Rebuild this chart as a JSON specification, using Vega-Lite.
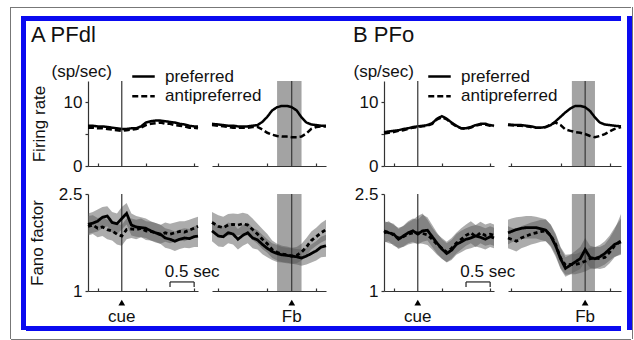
{
  "$schema": "https://vega.github.io/schema/vega-lite/v6.json",
  "padding": {"left": 10, "top": 7, "right": 0, "bottom": 0},
  "background": "white",
  "config": {
    "view": {"stroke": null},
    "font": "Liberation Sans",
    "axis": {"grid": false, "domainColor": "#333", "tickColor": "#333", "labelColor": "#111", "labelFont": "Liberation Sans", "labelFontSize": 17, "titleFont": "Liberation Sans", "titleFontSize": 17, "titleFontWeight": "normal", "titleColor": "#111", "labelFlush": false, "labelOverlap": false, "domainWidth": 1.2, "tickWidth": 1.2},
    "legend": {"labelFont": "Liberation Sans"},
    "title": {"font": "Liberation Sans", "fontWeight": "normal", "color": "#111"}
  },
  "datasets": {
    "rateA_cue": [
      {"t": -0.7, "preferred": 6.3, "antipreferred": 6.0}, {"t": -0.6, "preferred": 6.3, "antipreferred": 6.0},
      {"t": -0.5, "preferred": 6.2, "antipreferred": 5.9}, {"t": -0.4, "preferred": 6.2, "antipreferred": 5.9},
      {"t": -0.3, "preferred": 6.1, "antipreferred": 5.8}, {"t": -0.2, "preferred": 6.0, "antipreferred": 5.7},
      {"t": -0.1, "preferred": 5.9, "antipreferred": 5.6}, {"t": 0.0, "preferred": 5.8, "antipreferred": 5.5},
      {"t": 0.1, "preferred": 5.8, "antipreferred": 5.6}, {"t": 0.2, "preferred": 5.9, "antipreferred": 5.7},
      {"t": 0.3, "preferred": 5.9, "antipreferred": 5.8}, {"t": 0.4, "preferred": 6.2, "antipreferred": 6.0},
      {"t": 0.5, "preferred": 6.8, "antipreferred": 6.4}, {"t": 0.6, "preferred": 7.0, "antipreferred": 6.6},
      {"t": 0.7, "preferred": 7.1, "antipreferred": 6.7}, {"t": 0.8, "preferred": 7.1, "antipreferred": 6.8},
      {"t": 0.9, "preferred": 7.0, "antipreferred": 6.6}, {"t": 1.0, "preferred": 6.9, "antipreferred": 6.6},
      {"t": 1.1, "preferred": 6.8, "antipreferred": 6.4}, {"t": 1.2, "preferred": 6.6, "antipreferred": 6.3},
      {"t": 1.3, "preferred": 6.5, "antipreferred": 6.2}, {"t": 1.4, "preferred": 6.3, "antipreferred": 6.0},
      {"t": 1.5, "preferred": 6.2, "antipreferred": 6.0}, {"t": 1.58, "preferred": 6.2, "antipreferred": 5.9}
    ],
    "rateA_fb": [
      {"t": -1.63, "preferred": 6.6, "antipreferred": 6.4}, {"t": -1.5, "preferred": 6.5, "antipreferred": 6.3},
      {"t": -1.4, "preferred": 6.4, "antipreferred": 6.2}, {"t": -1.3, "preferred": 6.3, "antipreferred": 6.1},
      {"t": -1.2, "preferred": 6.3, "antipreferred": 6.0}, {"t": -1.1, "preferred": 6.2, "antipreferred": 6.0},
      {"t": -1.0, "preferred": 6.2, "antipreferred": 6.0}, {"t": -0.9, "preferred": 6.2, "antipreferred": 6.0},
      {"t": -0.8, "preferred": 6.3, "antipreferred": 6.1}, {"t": -0.7, "preferred": 6.4, "antipreferred": 6.1},
      {"t": -0.6, "preferred": 6.9, "antipreferred": 5.7}, {"t": -0.5, "preferred": 7.7, "antipreferred": 5.2},
      {"t": -0.4, "preferred": 8.7, "antipreferred": 4.9}, {"t": -0.3, "preferred": 9.2, "antipreferred": 4.7},
      {"t": -0.2, "preferred": 9.4, "antipreferred": 4.6}, {"t": -0.1, "preferred": 9.4, "antipreferred": 4.6},
      {"t": 0.0, "preferred": 9.2, "antipreferred": 4.5}, {"t": 0.1, "preferred": 8.7, "antipreferred": 4.5},
      {"t": 0.2, "preferred": 7.6, "antipreferred": 4.6}, {"t": 0.3, "preferred": 6.8, "antipreferred": 5.1},
      {"t": 0.4, "preferred": 6.5, "antipreferred": 5.8}, {"t": 0.5, "preferred": 6.4, "antipreferred": 6.1},
      {"t": 0.6, "preferred": 6.3, "antipreferred": 6.2}, {"t": 0.7, "preferred": 6.3, "antipreferred": 6.2}
    ],
    "rateB_cue": [
      {"t": -0.7, "preferred": 5.3, "antipreferred": 5.1}, {"t": -0.6, "preferred": 5.4, "antipreferred": 5.2},
      {"t": -0.5, "preferred": 5.5, "antipreferred": 5.3}, {"t": -0.4, "preferred": 5.6, "antipreferred": 5.5},
      {"t": -0.3, "preferred": 5.8, "antipreferred": 5.6}, {"t": -0.2, "preferred": 5.9, "antipreferred": 5.8},
      {"t": -0.1, "preferred": 6.1, "antipreferred": 6.0}, {"t": 0.0, "preferred": 6.2, "antipreferred": 6.1},
      {"t": 0.1, "preferred": 6.3, "antipreferred": 6.2}, {"t": 0.2, "preferred": 6.4, "antipreferred": 6.3},
      {"t": 0.3, "preferred": 6.7, "antipreferred": 6.6}, {"t": 0.4, "preferred": 7.4, "antipreferred": 7.3},
      {"t": 0.5, "preferred": 7.8, "antipreferred": 7.6}, {"t": 0.6, "preferred": 7.4, "antipreferred": 7.3},
      {"t": 0.7, "preferred": 6.8, "antipreferred": 6.7}, {"t": 0.8, "preferred": 6.3, "antipreferred": 6.2},
      {"t": 0.9, "preferred": 5.9, "antipreferred": 5.9}, {"t": 1.0, "preferred": 5.9, "antipreferred": 5.8},
      {"t": 1.1, "preferred": 6.1, "antipreferred": 6.0}, {"t": 1.2, "preferred": 6.4, "antipreferred": 6.3},
      {"t": 1.3, "preferred": 6.6, "antipreferred": 6.5}, {"t": 1.4, "preferred": 6.6, "antipreferred": 6.5},
      {"t": 1.5, "preferred": 6.4, "antipreferred": 6.3}, {"t": 1.58, "preferred": 6.3, "antipreferred": 6.2}
    ],
    "rateB_fb": [
      {"t": -1.57, "preferred": 6.5, "antipreferred": 6.4}, {"t": -1.4, "preferred": 6.4, "antipreferred": 6.3},
      {"t": -1.3, "preferred": 6.4, "antipreferred": 6.3}, {"t": -1.2, "preferred": 6.3, "antipreferred": 6.2},
      {"t": -1.1, "preferred": 6.2, "antipreferred": 6.1}, {"t": -1.0, "preferred": 6.0, "antipreferred": 6.0},
      {"t": -0.9, "preferred": 6.0, "antipreferred": 6.0}, {"t": -0.8, "preferred": 6.1, "antipreferred": 6.1},
      {"t": -0.7, "preferred": 6.4, "antipreferred": 6.5}, {"t": -0.6, "preferred": 7.0, "antipreferred": 6.8},
      {"t": -0.5, "preferred": 7.7, "antipreferred": 6.4}, {"t": -0.4, "preferred": 8.4, "antipreferred": 5.7},
      {"t": -0.3, "preferred": 9.0, "antipreferred": 5.5}, {"t": -0.2, "preferred": 9.4, "antipreferred": 5.3},
      {"t": -0.1, "preferred": 9.4, "antipreferred": 5.2}, {"t": 0.0, "preferred": 9.2, "antipreferred": 5.0},
      {"t": 0.1, "preferred": 8.6, "antipreferred": 4.7}, {"t": 0.2, "preferred": 7.6, "antipreferred": 4.5},
      {"t": 0.3, "preferred": 6.8, "antipreferred": 4.7}, {"t": 0.4, "preferred": 6.5, "antipreferred": 5.0},
      {"t": 0.5, "preferred": 6.4, "antipreferred": 5.4}, {"t": 0.6, "preferred": 6.3, "antipreferred": 5.8},
      {"t": 0.73, "preferred": 6.2, "antipreferred": 6.1}
    ],
    "fanoA_cue": [
      {"t": -0.7, "preferred": 2.03, "antipreferred": 2.0, "pLo": 1.88, "pHi": 2.2, "aLo": 1.86, "aHi": 2.16},
      {"t": -0.6, "preferred": 2.05, "antipreferred": 2.02, "pLo": 1.9, "pHi": 2.22, "aLo": 1.88, "aHi": 2.17},
      {"t": -0.5, "preferred": 2.08, "antipreferred": 1.97, "pLo": 1.92, "pHi": 2.26, "aLo": 1.83, "aHi": 2.13},
      {"t": -0.4, "preferred": 2.14, "antipreferred": 1.99, "pLo": 1.97, "pHi": 2.3, "aLo": 1.85, "aHi": 2.15},
      {"t": -0.3, "preferred": 2.16, "antipreferred": 1.95, "pLo": 2.0, "pHi": 2.31, "aLo": 1.8, "aHi": 2.1},
      {"t": -0.2, "preferred": 2.06, "antipreferred": 1.93, "pLo": 1.9, "pHi": 2.22, "aLo": 1.78, "aHi": 2.08},
      {"t": -0.1, "preferred": 2.04, "antipreferred": 1.88, "pLo": 1.88, "pHi": 2.2, "aLo": 1.72, "aHi": 2.04},
      {"t": 0.0, "preferred": 2.12, "antipreferred": 1.85, "pLo": 1.95, "pHi": 2.3, "aLo": 1.7, "aHi": 2.02},
      {"t": 0.1, "preferred": 2.2, "antipreferred": 1.95, "pLo": 2.03, "pHi": 2.36, "aLo": 1.8, "aHi": 2.12},
      {"t": 0.2, "preferred": 2.02, "antipreferred": 1.96, "pLo": 1.86, "pHi": 2.2, "aLo": 1.82, "aHi": 2.12},
      {"t": 0.3, "preferred": 1.99, "antipreferred": 1.95, "pLo": 1.84, "pHi": 2.16, "aLo": 1.8, "aHi": 2.1},
      {"t": 0.4, "preferred": 1.98, "antipreferred": 1.97, "pLo": 1.83, "pHi": 2.14, "aLo": 1.83, "aHi": 2.12},
      {"t": 0.5, "preferred": 1.97, "antipreferred": 1.93, "pLo": 1.82, "pHi": 2.12, "aLo": 1.79, "aHi": 2.08},
      {"t": 0.6, "preferred": 1.93, "antipreferred": 1.92, "pLo": 1.78, "pHi": 2.08, "aLo": 1.78, "aHi": 2.07},
      {"t": 0.7, "preferred": 1.9, "antipreferred": 1.9, "pLo": 1.75, "pHi": 2.05, "aLo": 1.76, "aHi": 2.05},
      {"t": 0.8, "preferred": 1.88, "antipreferred": 1.87, "pLo": 1.73, "pHi": 2.03, "aLo": 1.73, "aHi": 2.02},
      {"t": 0.9, "preferred": 1.82, "antipreferred": 1.9, "pLo": 1.67, "pHi": 1.97, "aLo": 1.76, "aHi": 2.06},
      {"t": 1.0, "preferred": 1.8, "antipreferred": 1.88, "pLo": 1.65, "pHi": 1.95, "aLo": 1.74, "aHi": 2.04},
      {"t": 1.1, "preferred": 1.77, "antipreferred": 1.9, "pLo": 1.62, "pHi": 1.92, "aLo": 1.76, "aHi": 2.06},
      {"t": 1.2, "preferred": 1.8, "antipreferred": 1.92, "pLo": 1.65, "pHi": 1.95, "aLo": 1.78, "aHi": 2.08},
      {"t": 1.3, "preferred": 1.82, "antipreferred": 1.91, "pLo": 1.67, "pHi": 1.97, "aLo": 1.77, "aHi": 2.08},
      {"t": 1.4, "preferred": 1.81, "antipreferred": 1.94, "pLo": 1.66, "pHi": 1.96, "aLo": 1.8, "aHi": 2.1},
      {"t": 1.5, "preferred": 1.84, "antipreferred": 1.97, "pLo": 1.68, "pHi": 2.0, "aLo": 1.83, "aHi": 2.13},
      {"t": 1.58, "preferred": 1.85, "antipreferred": 2.0, "pLo": 1.68, "pHi": 2.02, "aLo": 1.85, "aHi": 2.15}
    ],
    "fanoA_fb": [
      {"t": -1.63, "preferred": 1.93, "antipreferred": 2.06, "pLo": 1.77, "pHi": 2.09, "aLo": 1.9, "aHi": 2.22},
      {"t": -1.5, "preferred": 1.85, "antipreferred": 2.0, "pLo": 1.69, "pHi": 2.01, "aLo": 1.84, "aHi": 2.17},
      {"t": -1.4, "preferred": 1.84, "antipreferred": 1.98, "pLo": 1.68, "pHi": 2.0, "aLo": 1.82, "aHi": 2.15},
      {"t": -1.3, "preferred": 1.9, "antipreferred": 2.02, "pLo": 1.74, "pHi": 2.06, "aLo": 1.86, "aHi": 2.19},
      {"t": -1.2, "preferred": 1.88, "antipreferred": 2.03, "pLo": 1.72, "pHi": 2.04, "aLo": 1.87, "aHi": 2.2},
      {"t": -1.1, "preferred": 1.8, "antipreferred": 2.02, "pLo": 1.64, "pHi": 1.96, "aLo": 1.86, "aHi": 2.19},
      {"t": -1.0, "preferred": 1.86, "antipreferred": 2.04, "pLo": 1.7, "pHi": 2.02, "aLo": 1.88, "aHi": 2.21},
      {"t": -0.9, "preferred": 1.9, "antipreferred": 2.02, "pLo": 1.74, "pHi": 2.06, "aLo": 1.86, "aHi": 2.19},
      {"t": -0.8, "preferred": 1.82, "antipreferred": 1.95, "pLo": 1.66, "pHi": 1.98, "aLo": 1.79, "aHi": 2.12},
      {"t": -0.7, "preferred": 1.79, "antipreferred": 1.88, "pLo": 1.64, "pHi": 1.94, "aLo": 1.73, "aHi": 2.04},
      {"t": -0.6, "preferred": 1.72, "antipreferred": 1.8, "pLo": 1.57, "pHi": 1.87, "aLo": 1.65, "aHi": 1.96},
      {"t": -0.5, "preferred": 1.66, "antipreferred": 1.73, "pLo": 1.52, "pHi": 1.8, "aLo": 1.59, "aHi": 1.88},
      {"t": -0.4, "preferred": 1.61, "antipreferred": 1.64, "pLo": 1.48, "pHi": 1.74, "aLo": 1.51, "aHi": 1.78},
      {"t": -0.3, "preferred": 1.58, "antipreferred": 1.6, "pLo": 1.45, "pHi": 1.71, "aLo": 1.47, "aHi": 1.73},
      {"t": -0.2, "preferred": 1.56, "antipreferred": 1.57, "pLo": 1.44, "pHi": 1.68, "aLo": 1.45, "aHi": 1.7},
      {"t": -0.1, "preferred": 1.55, "antipreferred": 1.56, "pLo": 1.43, "pHi": 1.67, "aLo": 1.44, "aHi": 1.69},
      {"t": 0.0, "preferred": 1.54, "antipreferred": 1.54, "pLo": 1.42, "pHi": 1.66, "aLo": 1.42, "aHi": 1.67},
      {"t": 0.1, "preferred": 1.53, "antipreferred": 1.55, "pLo": 1.41, "pHi": 1.65, "aLo": 1.43, "aHi": 1.68},
      {"t": 0.2, "preferred": 1.51, "antipreferred": 1.6, "pLo": 1.39, "pHi": 1.64, "aLo": 1.47, "aHi": 1.73},
      {"t": 0.3, "preferred": 1.54, "antipreferred": 1.68, "pLo": 1.41, "pHi": 1.67, "aLo": 1.55, "aHi": 1.82},
      {"t": 0.4, "preferred": 1.58, "antipreferred": 1.78, "pLo": 1.44, "pHi": 1.72, "aLo": 1.64, "aHi": 1.92},
      {"t": 0.5, "preferred": 1.62, "antipreferred": 1.84, "pLo": 1.47, "pHi": 1.77, "aLo": 1.7, "aHi": 1.98},
      {"t": 0.6, "preferred": 1.68, "antipreferred": 1.9, "pLo": 1.52, "pHi": 1.84, "aLo": 1.75, "aHi": 2.05},
      {"t": 0.7, "preferred": 1.7, "antipreferred": 1.95, "pLo": 1.53, "pHi": 1.87, "aLo": 1.79, "aHi": 2.1}
    ],
    "fanoB_cue": [
      {"t": -0.7, "preferred": 1.93, "antipreferred": 1.9, "pLo": 1.77, "pHi": 2.08, "aLo": 1.75, "aHi": 2.05},
      {"t": -0.6, "preferred": 1.9, "antipreferred": 1.92, "pLo": 1.74, "pHi": 2.06, "aLo": 1.77, "aHi": 2.08},
      {"t": -0.5, "preferred": 1.88, "antipreferred": 1.86, "pLo": 1.72, "pHi": 2.04, "aLo": 1.7, "aHi": 2.02},
      {"t": -0.4, "preferred": 1.8, "antipreferred": 1.82, "pLo": 1.65, "pHi": 1.96, "aLo": 1.67, "aHi": 1.98},
      {"t": -0.3, "preferred": 1.85, "antipreferred": 1.84, "pLo": 1.69, "pHi": 2.01, "aLo": 1.68, "aHi": 2.0},
      {"t": -0.2, "preferred": 1.9, "antipreferred": 1.88, "pLo": 1.74, "pHi": 2.08, "aLo": 1.72, "aHi": 2.06},
      {"t": -0.1, "preferred": 1.93, "antipreferred": 1.9, "pLo": 1.76, "pHi": 2.12, "aLo": 1.74, "aHi": 2.1},
      {"t": 0.0, "preferred": 1.88, "antipreferred": 1.9, "pLo": 1.72, "pHi": 2.1, "aLo": 1.74, "aHi": 2.16},
      {"t": 0.1, "preferred": 1.93, "antipreferred": 1.89, "pLo": 1.76, "pHi": 2.18, "aLo": 1.73, "aHi": 2.2},
      {"t": 0.2, "preferred": 1.94, "antipreferred": 1.87, "pLo": 1.78, "pHi": 2.14, "aLo": 1.71, "aHi": 2.1},
      {"t": 0.3, "preferred": 1.84, "antipreferred": 1.8, "pLo": 1.68, "pHi": 2.02, "aLo": 1.64, "aHi": 1.98},
      {"t": 0.4, "preferred": 1.74, "antipreferred": 1.72, "pLo": 1.58, "pHi": 1.9, "aLo": 1.56, "aHi": 1.88},
      {"t": 0.5, "preferred": 1.65, "antipreferred": 1.66, "pLo": 1.5, "pHi": 1.8, "aLo": 1.5, "aHi": 1.82},
      {"t": 0.6, "preferred": 1.58, "antipreferred": 1.6, "pLo": 1.44, "pHi": 1.74, "aLo": 1.45, "aHi": 1.76},
      {"t": 0.7, "preferred": 1.63, "antipreferred": 1.66, "pLo": 1.48, "pHi": 1.79, "aLo": 1.5, "aHi": 1.82},
      {"t": 0.8, "preferred": 1.72, "antipreferred": 1.74, "pLo": 1.56, "pHi": 1.88, "aLo": 1.58, "aHi": 1.9},
      {"t": 0.9, "preferred": 1.76, "antipreferred": 1.8, "pLo": 1.6, "pHi": 1.93, "aLo": 1.64, "aHi": 1.97},
      {"t": 1.0, "preferred": 1.8, "antipreferred": 1.86, "pLo": 1.64, "pHi": 1.97, "aLo": 1.7, "aHi": 2.03},
      {"t": 1.1, "preferred": 1.82, "antipreferred": 1.9, "pLo": 1.66, "pHi": 2.0, "aLo": 1.74, "aHi": 2.08},
      {"t": 1.2, "preferred": 1.85, "antipreferred": 1.84, "pLo": 1.69, "pHi": 2.02, "aLo": 1.68, "aHi": 2.02},
      {"t": 1.3, "preferred": 1.83, "antipreferred": 1.9, "pLo": 1.67, "pHi": 2.0, "aLo": 1.74, "aHi": 2.07},
      {"t": 1.4, "preferred": 1.8, "antipreferred": 1.86, "pLo": 1.64, "pHi": 1.97, "aLo": 1.7, "aHi": 2.03},
      {"t": 1.5, "preferred": 1.84, "antipreferred": 1.88, "pLo": 1.68, "pHi": 2.0, "aLo": 1.72, "aHi": 2.05},
      {"t": 1.58, "preferred": 1.82, "antipreferred": 1.86, "pLo": 1.66, "pHi": 1.98, "aLo": 1.7, "aHi": 2.03}
    ],
    "fanoB_fb": [
      {"t": -1.57, "preferred": 1.9, "antipreferred": 1.82, "pLo": 1.72, "pHi": 2.1, "aLo": 1.66, "aHi": 2.0},
      {"t": -1.5, "preferred": 1.92, "antipreferred": 1.8, "pLo": 1.75, "pHi": 2.12, "aLo": 1.64, "aHi": 1.98},
      {"t": -1.4, "preferred": 1.95, "antipreferred": 1.77, "pLo": 1.78, "pHi": 2.14, "aLo": 1.61, "aHi": 1.95},
      {"t": -1.3, "preferred": 1.97, "antipreferred": 1.82, "pLo": 1.8, "pHi": 2.15, "aLo": 1.66, "aHi": 2.0},
      {"t": -1.2, "preferred": 1.98, "antipreferred": 1.85, "pLo": 1.81, "pHi": 2.16, "aLo": 1.69, "aHi": 2.03},
      {"t": -1.1, "preferred": 1.98, "antipreferred": 1.88, "pLo": 1.81, "pHi": 2.16, "aLo": 1.72, "aHi": 2.06},
      {"t": -1.0, "preferred": 1.98, "antipreferred": 1.9, "pLo": 1.81, "pHi": 2.15, "aLo": 1.74, "aHi": 2.08},
      {"t": -0.9, "preferred": 1.96, "antipreferred": 1.92, "pLo": 1.79, "pHi": 2.13, "aLo": 1.76, "aHi": 2.1},
      {"t": -0.8, "preferred": 1.94, "antipreferred": 1.93, "pLo": 1.77, "pHi": 2.11, "aLo": 1.77, "aHi": 2.1},
      {"t": -0.7, "preferred": 1.85, "antipreferred": 1.86, "pLo": 1.68, "pHi": 2.02, "aLo": 1.7, "aHi": 2.03},
      {"t": -0.6, "preferred": 1.7, "antipreferred": 1.72, "pLo": 1.53, "pHi": 1.87, "aLo": 1.56, "aHi": 1.89},
      {"t": -0.5, "preferred": 1.5, "antipreferred": 1.51, "pLo": 1.34, "pHi": 1.67, "aLo": 1.35, "aHi": 1.68},
      {"t": -0.4, "preferred": 1.35, "antipreferred": 1.4, "pLo": 1.22, "pHi": 1.52, "aLo": 1.25, "aHi": 1.56},
      {"t": -0.3, "preferred": 1.4, "antipreferred": 1.41, "pLo": 1.26, "pHi": 1.56, "aLo": 1.26, "aHi": 1.57},
      {"t": -0.2, "preferred": 1.45, "antipreferred": 1.41, "pLo": 1.3, "pHi": 1.62, "aLo": 1.26, "aHi": 1.57},
      {"t": -0.1, "preferred": 1.5, "antipreferred": 1.43, "pLo": 1.34, "pHi": 1.68, "aLo": 1.28, "aHi": 1.6},
      {"t": 0.0, "preferred": 1.64, "antipreferred": 1.46, "pLo": 1.46, "pHi": 1.82, "aLo": 1.3, "aHi": 1.63},
      {"t": 0.1, "preferred": 1.52, "antipreferred": 1.5, "pLo": 1.36, "pHi": 1.7, "aLo": 1.34, "aHi": 1.67},
      {"t": 0.2, "preferred": 1.5, "antipreferred": 1.51, "pLo": 1.34, "pHi": 1.68, "aLo": 1.35, "aHi": 1.68},
      {"t": 0.3, "preferred": 1.53, "antipreferred": 1.5, "pLo": 1.37, "pHi": 1.71, "aLo": 1.34, "aHi": 1.68},
      {"t": 0.4, "preferred": 1.58, "antipreferred": 1.52, "pLo": 1.41, "pHi": 1.77, "aLo": 1.36, "aHi": 1.72},
      {"t": 0.5, "preferred": 1.65, "antipreferred": 1.6, "pLo": 1.47, "pHi": 1.86, "aLo": 1.43, "aHi": 1.82},
      {"t": 0.6, "preferred": 1.72, "antipreferred": 1.7, "pLo": 1.53, "pHi": 1.98, "aLo": 1.52, "aHi": 1.95},
      {"t": 0.73, "preferred": 1.76, "antipreferred": 1.78, "pLo": 1.56, "pHi": 2.12, "aLo": 1.58, "aHi": 2.19}
    ]
  },
  "spacing": 0,
  "hconcat": [
    {"width": 1, "height": 332, "data": {"values": []}, "mark": "point", "view": {"fill": "#777777", "stroke": null}},
    {
      "spacing": 8,
      "vconcat": [
        {"width": 620, "height": 1, "data": {"values": []}, "mark": "point", "view": {"fill": "#777777", "stroke": null}},
        {
          "spacing": 9,
          "hconcat": [
            {"width": 1, "height": 1, "data": {"values": []}, "mark": "point", "view": {"fill": "transparent", "stroke": null}},
            {
              "spacing": 0,
              "hconcat": [
                {"width": 5, "height": 314, "data": {"values": []}, "mark": "point", "view": {"fill": "#0a0af0", "stroke": null}},
                {
                  "spacing": 2,
                  "vconcat": [
                    {"width": 595, "height": 5, "data": {"values": []}, "mark": "point", "view": {"fill": "#0a0af0", "stroke": null}},
                    {
                      "spacing": 0,
                      "vconcat": [
                        {
                          "spacing": 1,
                          "hconcat": [
                            {"width": 1, "height": 1, "data": {"values": []}, "mark": "point", "view": {"fill": "transparent", "stroke": null}},
                            {
                              "columns": 5,
                              "spacing": {"row": 28, "column": 14},
                              "bounds": "flush",
                              "align": "each",
                              "resolve": {"scale": {"strokeDash": "independent"}, "legend": {"strokeDash": "independent"}},
                              "concat": [
                                {
                                  "width": 110, "height": 85,
                                  "title": {"text": "A PFdl", "anchor": "start", "frame": "group", "fontSize": 22, "dx": -57, "offset": -1.5, "baseline": "alphabetic"},
                                  "resolve": {"axis": {"y": "independent"}},
                                  "layer": [
                                    {
                                      "data": {"name": "rateA_cue"},
                                      "transform": [{"fold": ["preferred", "antipreferred"], "as": ["cond", "v"]}],
                                      "mark": {"type": "line", "color": "#000", "strokeWidth": 2.5},
                                      "encoding": {
                                        "x": {"field": "t", "type": "quantitative", "scale": {"domain": [-0.7, 1.58], "nice": false, "zero": false}, "axis": {"values": [-0.5, 0, 0.5, 1, 1.5], "labels": false, "title": null, "tickSize": -3}},
                                        "y": {"field": "v", "type": "quantitative", "scale": {"domain": [0, 13.3], "nice": false}, "axis": {"orient": "left", "values": [0, 5, 10], "labelExpr": "datum.value == 5 ? '' : datum.label", "tickSize": 3, "labelPadding": 3, "title": "(sp/sec)", "titleAngle": 0, "titleAlign": "left", "titleBaseline": "alphabetic", "titleX": -37, "titleY": -5}},
                                        "strokeDash": {"field": "cond", "type": "nominal", "scale": {"domain": ["preferred", "antipreferred"], "range": [[1, 0], [6, 3]]}, "legend": {"orient": "none", "legendX": 45, "legendY": -15, "title": null, "direction": "vertical", "symbolType": "M-1.25,0H1.25", "symbolSize": 324, "symbolStrokeWidth": 2.5, "symbolStrokeColor": "#000", "symbolFillColor": "transparent", "labelFontSize": 17, "labelColor": "#111", "labelOffset": 11, "rowPadding": 0.7, "padding": 0, "labelLimit": 300}}
                                      }
                                    },
                                    {"data": {"values": [{"t": 0}]}, "mark": {"type": "rule", "color": "#333", "strokeWidth": 1.2}, "encoding": {"x": {"field": "t", "type": "quantitative"}}},
                                    {"data": {"values": []}, "mark": "point", "encoding": {"y": {"field": "v", "type": "quantitative", "axis": {"orient": "left", "title": "Firing rate", "domain": false, "ticks": false, "labels": false, "titlePadding": 40}}}}
                                  ]
                                },
                                {
                                  "width": 114, "height": 85,
                                  "layer": [
                                    {"data": {"values": [{"start": -0.3, "end": 0.2}]}, "mark": {"type": "rect", "color": "#a3a3a3"}, "encoding": {"x": {"field": "start", "type": "quantitative", "scale": {"domain": [-1.63, 0.7], "nice": false, "zero": false}, "axis": {"values": [-1.5, -1, -0.5, 0, 0.5], "labels": false, "title": null, "tickSize": -3}}, "x2": {"field": "end"}}},
                                    {"data": {"values": [{"t": 0}]}, "mark": {"type": "rule", "color": "#222", "strokeWidth": 1}, "encoding": {"x": {"field": "t", "type": "quantitative"}}},
                                    {
                                      "data": {"name": "rateA_fb"},
                                      "transform": [{"fold": ["preferred", "antipreferred"], "as": ["cond", "v"]}],
                                      "mark": {"type": "line", "color": "#000", "strokeWidth": 2.5},
                                      "encoding": {
                                        "x": {"field": "t", "type": "quantitative"},
                                        "y": {"field": "v", "type": "quantitative", "scale": {"domain": [0, 13.3], "nice": false}, "axis": null},
                                        "strokeDash": {"field": "cond", "type": "nominal", "scale": {"domain": ["preferred", "antipreferred"], "range": [[1, 0], [6, 3]]}, "legend": null}
                                      }
                                    }
                                  ]
                                },
                                {"width": 30, "height": 1, "data": {"values": []}, "mark": "point"},
                                {
                                  "width": 110, "height": 85,
                                  "title": {"text": "B PFo", "anchor": "start", "frame": "group", "fontSize": 22, "dx": -31, "offset": -1.5, "baseline": "alphabetic"},
                                  "layer": [
                                    {
                                      "data": {"name": "rateB_cue"},
                                      "transform": [{"fold": ["preferred", "antipreferred"], "as": ["cond", "v"]}],
                                      "mark": {"type": "line", "color": "#000", "strokeWidth": 2.5},
                                      "encoding": {
                                        "x": {"field": "t", "type": "quantitative", "scale": {"domain": [-0.7, 1.58], "nice": false, "zero": false}, "axis": {"values": [-0.5, 0, 0.5, 1, 1.5], "labels": false, "title": null, "tickSize": -3}},
                                        "y": {"field": "v", "type": "quantitative", "scale": {"domain": [0, 13.3], "nice": false}, "axis": {"orient": "left", "values": [0, 5, 10], "labelExpr": "datum.value == 5 ? '' : datum.label", "tickSize": 3, "labelPadding": 3, "title": "(sp/sec)", "titleAngle": 0, "titleAlign": "left", "titleBaseline": "alphabetic", "titleX": -31, "titleY": -5}},
                                        "strokeDash": {"field": "cond", "type": "nominal", "scale": {"domain": ["preferred", "antipreferred"], "range": [[1, 0], [6, 3]]}, "legend": {"orient": "none", "legendX": 45, "legendY": -15, "title": null, "direction": "vertical", "symbolType": "M-1.25,0H1.25", "symbolSize": 324, "symbolStrokeWidth": 2.5, "symbolStrokeColor": "#000", "symbolFillColor": "transparent", "labelFontSize": 17, "labelColor": "#111", "labelOffset": 11, "rowPadding": 0.7, "padding": 0, "labelLimit": 300}}
                                      }
                                    },
                                    {"data": {"values": [{"t": 0}]}, "mark": {"type": "rule", "color": "#333", "strokeWidth": 1.2}, "encoding": {"x": {"field": "t", "type": "quantitative"}}}
                                  ]
                                },
                                {
                                  "width": 113, "height": 85,
                                  "layer": [
                                    {"data": {"values": [{"start": -0.27, "end": 0.2}]}, "mark": {"type": "rect", "color": "#a3a3a3"}, "encoding": {"x": {"field": "start", "type": "quantitative", "scale": {"domain": [-1.57, 0.73], "nice": false, "zero": false}, "axis": {"values": [-1.5, -1, -0.5, 0, 0.5], "labels": false, "title": null, "tickSize": -3}}, "x2": {"field": "end"}}},
                                    {"data": {"values": [{"t": 0}]}, "mark": {"type": "rule", "color": "#222", "strokeWidth": 1}, "encoding": {"x": {"field": "t", "type": "quantitative"}}},
                                    {
                                      "data": {"name": "rateB_fb"},
                                      "transform": [{"fold": ["preferred", "antipreferred"], "as": ["cond", "v"]}],
                                      "mark": {"type": "line", "color": "#000", "strokeWidth": 2.5},
                                      "encoding": {
                                        "x": {"field": "t", "type": "quantitative"},
                                        "y": {"field": "v", "type": "quantitative", "scale": {"domain": [0, 13.3], "nice": false}, "axis": null},
                                        "strokeDash": {"field": "cond", "type": "nominal", "scale": {"domain": ["preferred", "antipreferred"], "range": [[1, 0], [6, 3]]}, "legend": null}
                                      }
                                    }
                                  ]
                                },
                                {
                                  "width": 110, "height": 97,
                                  "layer": [
                                    {"data": {"name": "fanoA_cue"}, "mark": {"type": "area", "color": "#5a5a5a", "opacity": 0.5}, "encoding": {
                                      "x": {"field": "t", "type": "quantitative", "scale": {"domain": [-0.7, 1.58], "nice": false, "zero": false}, "axis": {"values": [-0.5, 0, 0.5, 1, 1.5], "labels": false, "title": null, "tickSize": -3}},
                                      "y": {"field": "pLo", "type": "quantitative", "scale": {"domain": [1, 2.5], "nice": false, "zero": false}, "axis": {"values": [1, 1.5, 2, 2.5], "labelExpr": "datum.value == 1 ? '1' : datum.value == 2.5 ? '2.5' : ''", "tickSize": 3, "labelPadding": 3, "title": "Fano factor", "titlePadding": 12}},
                                      "y2": {"field": "pHi"}}},
                                    {"data": {"name": "fanoA_cue"}, "mark": {"type": "area", "color": "#5a5a5a", "opacity": 0.5}, "encoding": {"x": {"field": "t", "type": "quantitative"}, "y": {"field": "aLo", "type": "quantitative"}, "y2": {"field": "aHi"}}},
                                    {"data": {"values": [{"t": 0}]}, "mark": {"type": "rule", "color": "#333", "strokeWidth": 1.2}, "encoding": {"x": {"field": "t", "type": "quantitative"}}},
                                    {
                                      "data": {"name": "fanoA_cue"},
                                      "transform": [{"fold": ["preferred", "antipreferred"], "as": ["cond", "v"]}],
                                      "mark": {"type": "line", "color": "#000", "strokeWidth": 2.8},
                                      "encoding": {
                                        "x": {"field": "t", "type": "quantitative"},
                                        "y": {"field": "v", "type": "quantitative"},
                                        "strokeDash": {"field": "cond", "type": "nominal", "scale": {"domain": ["preferred", "antipreferred"], "range": [[1, 0], [4, 3]]}, "legend": null}
                                      }
                                    },
                                    {"data": {"values": [{"t": 0, "event": "cue"}]}, "mark": {"type": "point", "shape": "triangle-up", "filled": true, "color": "#000", "size": 45, "opacity": 1}, "encoding": {"x": {"field": "t", "type": "quantitative"}, "y": {"datum": 0.82, "type": "quantitative"}}},
                                    {"data": {"values": [{"t": 0, "event": "cue"}]}, "mark": {"type": "text", "fontSize": 17, "align": "center", "baseline": "alphabetic", "color": "#111"}, "encoding": {"x": {"field": "t", "type": "quantitative"}, "y": {"datum": 0.52, "type": "quantitative"}, "text": {"field": "event"}}},
                                    {"data": {"values": [{}]}, "mark": {"type": "rule", "color": "#222", "strokeWidth": 1.2}, "encoding": {"x": {"datum": 1, "type": "quantitative"}, "x2": {"datum": 1.5}, "y": {"datum": 1.14, "type": "quantitative"}}},
                                    {"data": {"values": [{}]}, "mark": {"type": "rule", "color": "#222", "strokeWidth": 1.2}, "encoding": {"x": {"datum": 1, "type": "quantitative"}, "y": {"datum": 1.06, "type": "quantitative"}, "y2": {"datum": 1.14}}},
                                    {"data": {"values": [{}]}, "mark": {"type": "rule", "color": "#222", "strokeWidth": 1.2}, "encoding": {"x": {"datum": 1.5, "type": "quantitative"}, "y": {"datum": 1.06, "type": "quantitative"}, "y2": {"datum": 1.14}}},
                                    {"data": {"values": [{}]}, "mark": {"type": "text", "text": "0.5 sec", "fontSize": 17, "align": "center", "baseline": "alphabetic", "color": "#111"}, "encoding": {"x": {"datum": 1.46, "type": "quantitative"}, "y": {"datum": 1.22, "type": "quantitative"}}}
                                  ]
                                },
                                {
                                  "width": 114, "height": 97,
                                  "layer": [
                                    {"data": {"values": [{"start": -0.3, "end": 0.2}]}, "mark": {"type": "rect", "color": "#a3a3a3"}, "encoding": {"x": {"field": "start", "type": "quantitative", "scale": {"domain": [-1.63, 0.7], "nice": false, "zero": false}, "axis": {"values": [-1.5, -1, -0.5, 0, 0.5], "labels": false, "title": null, "tickSize": -3}}, "x2": {"field": "end"}}},
                                    {"data": {"name": "fanoA_fb"}, "mark": {"type": "area", "color": "#5a5a5a", "opacity": 0.5}, "encoding": {"x": {"field": "t", "type": "quantitative"}, "y": {"field": "pLo", "type": "quantitative", "scale": {"domain": [1, 2.5], "nice": false, "zero": false}, "axis": null}, "y2": {"field": "pHi"}}},
                                    {"data": {"name": "fanoA_fb"}, "mark": {"type": "area", "color": "#5a5a5a", "opacity": 0.5}, "encoding": {"x": {"field": "t", "type": "quantitative"}, "y": {"field": "aLo", "type": "quantitative", "axis": null}, "y2": {"field": "aHi"}}},
                                    {"data": {"values": [{"t": 0}]}, "mark": {"type": "rule", "color": "#222", "strokeWidth": 1}, "encoding": {"x": {"field": "t", "type": "quantitative"}}},
                                    {
                                      "data": {"name": "fanoA_fb"},
                                      "transform": [{"fold": ["preferred", "antipreferred"], "as": ["cond", "v"]}],
                                      "mark": {"type": "line", "color": "#000", "strokeWidth": 2.8},
                                      "encoding": {
                                        "x": {"field": "t", "type": "quantitative"},
                                        "y": {"field": "v", "type": "quantitative", "axis": null},
                                        "strokeDash": {"field": "cond", "type": "nominal", "scale": {"domain": ["preferred", "antipreferred"], "range": [[1, 0], [4, 3]]}, "legend": null}
                                      }
                                    },
                                    {"data": {"values": [{"t": 0, "event": "Fb"}]}, "mark": {"type": "point", "shape": "triangle-up", "filled": true, "color": "#000", "size": 45, "opacity": 1}, "encoding": {"x": {"field": "t", "type": "quantitative"}, "y": {"datum": 0.82, "type": "quantitative", "axis": null}}},
                                    {"data": {"values": [{"t": 0, "event": "Fb"}]}, "mark": {"type": "text", "fontSize": 17, "align": "center", "baseline": "alphabetic", "color": "#111"}, "encoding": {"x": {"field": "t", "type": "quantitative"}, "y": {"datum": 0.52, "type": "quantitative", "axis": null}, "text": {"field": "event"}}}
                                  ]
                                },
                                {"width": 30, "height": 1, "data": {"values": []}, "mark": "point"},
                                {
                                  "width": 110, "height": 97,
                                  "layer": [
                                    {"data": {"name": "fanoB_cue"}, "mark": {"type": "area", "color": "#5a5a5a", "opacity": 0.5}, "encoding": {
                                      "x": {"field": "t", "type": "quantitative", "scale": {"domain": [-0.7, 1.58], "nice": false, "zero": false}, "axis": {"values": [-0.5, 0, 0.5, 1, 1.5], "labels": false, "title": null, "tickSize": -3}},
                                      "y": {"field": "pLo", "type": "quantitative", "scale": {"domain": [1, 2.5], "nice": false, "zero": false}, "axis": {"values": [1, 1.5, 2, 2.5], "labelExpr": "datum.value == 1 ? '1' : datum.value == 2.5 ? '2.5' : ''", "tickSize": 3, "labelPadding": 3, "title": null}},
                                      "y2": {"field": "pHi"}}},
                                    {"data": {"name": "fanoB_cue"}, "mark": {"type": "area", "color": "#5a5a5a", "opacity": 0.5}, "encoding": {"x": {"field": "t", "type": "quantitative"}, "y": {"field": "aLo", "type": "quantitative"}, "y2": {"field": "aHi"}}},
                                    {"data": {"values": [{"t": 0}]}, "mark": {"type": "rule", "color": "#333", "strokeWidth": 1.2}, "encoding": {"x": {"field": "t", "type": "quantitative"}}},
                                    {
                                      "data": {"name": "fanoB_cue"},
                                      "transform": [{"fold": ["preferred", "antipreferred"], "as": ["cond", "v"]}],
                                      "mark": {"type": "line", "color": "#000", "strokeWidth": 2.8},
                                      "encoding": {
                                        "x": {"field": "t", "type": "quantitative"},
                                        "y": {"field": "v", "type": "quantitative"},
                                        "strokeDash": {"field": "cond", "type": "nominal", "scale": {"domain": ["preferred", "antipreferred"], "range": [[1, 0], [4, 3]]}, "legend": null}
                                      }
                                    },
                                    {"data": {"values": [{"t": 0, "event": "cue"}]}, "mark": {"type": "point", "shape": "triangle-up", "filled": true, "color": "#000", "size": 45, "opacity": 1}, "encoding": {"x": {"field": "t", "type": "quantitative"}, "y": {"datum": 0.82, "type": "quantitative"}}},
                                    {"data": {"values": [{"t": 0, "event": "cue"}]}, "mark": {"type": "text", "fontSize": 17, "align": "center", "baseline": "alphabetic", "color": "#111"}, "encoding": {"x": {"field": "t", "type": "quantitative"}, "y": {"datum": 0.52, "type": "quantitative"}, "text": {"field": "event"}}},
                                    {"data": {"values": [{}]}, "mark": {"type": "rule", "color": "#222", "strokeWidth": 1.2}, "encoding": {"x": {"datum": 1, "type": "quantitative"}, "x2": {"datum": 1.5}, "y": {"datum": 1.14, "type": "quantitative"}}},
                                    {"data": {"values": [{}]}, "mark": {"type": "rule", "color": "#222", "strokeWidth": 1.2}, "encoding": {"x": {"datum": 1, "type": "quantitative"}, "y": {"datum": 1.06, "type": "quantitative"}, "y2": {"datum": 1.14}}},
                                    {"data": {"values": [{}]}, "mark": {"type": "rule", "color": "#222", "strokeWidth": 1.2}, "encoding": {"x": {"datum": 1.5, "type": "quantitative"}, "y": {"datum": 1.06, "type": "quantitative"}, "y2": {"datum": 1.14}}},
                                    {"data": {"values": [{}]}, "mark": {"type": "text", "text": "0.5 sec", "fontSize": 17, "align": "center", "baseline": "alphabetic", "color": "#111"}, "encoding": {"x": {"datum": 1.45, "type": "quantitative"}, "y": {"datum": 1.22, "type": "quantitative"}}}
                                  ]
                                },
                                {
                                  "width": 113, "height": 97,
                                  "layer": [
                                    {"data": {"values": [{"start": -0.27, "end": 0.2}]}, "mark": {"type": "rect", "color": "#a3a3a3"}, "encoding": {"x": {"field": "start", "type": "quantitative", "scale": {"domain": [-1.57, 0.73], "nice": false, "zero": false}, "axis": {"values": [-1.5, -1, -0.5, 0, 0.5], "labels": false, "title": null, "tickSize": -3}}, "x2": {"field": "end"}}},
                                    {"data": {"name": "fanoB_fb"}, "mark": {"type": "area", "color": "#5a5a5a", "opacity": 0.5}, "encoding": {"x": {"field": "t", "type": "quantitative"}, "y": {"field": "pLo", "type": "quantitative", "scale": {"domain": [1, 2.5], "nice": false, "zero": false}, "axis": null}, "y2": {"field": "pHi"}}},
                                    {"data": {"name": "fanoB_fb"}, "mark": {"type": "area", "color": "#5a5a5a", "opacity": 0.5}, "encoding": {"x": {"field": "t", "type": "quantitative"}, "y": {"field": "aLo", "type": "quantitative", "axis": null}, "y2": {"field": "aHi"}}},
                                    {"data": {"values": [{"t": 0}]}, "mark": {"type": "rule", "color": "#222", "strokeWidth": 1}, "encoding": {"x": {"field": "t", "type": "quantitative"}}},
                                    {
                                      "data": {"name": "fanoB_fb"},
                                      "transform": [{"fold": ["preferred", "antipreferred"], "as": ["cond", "v"]}],
                                      "mark": {"type": "line", "color": "#000", "strokeWidth": 2.8},
                                      "encoding": {
                                        "x": {"field": "t", "type": "quantitative"},
                                        "y": {"field": "v", "type": "quantitative", "axis": null},
                                        "strokeDash": {"field": "cond", "type": "nominal", "scale": {"domain": ["preferred", "antipreferred"], "range": [[1, 0], [4, 3]]}, "legend": null}
                                      }
                                    },
                                    {"data": {"values": [{"t": 0, "event": "Fb"}]}, "mark": {"type": "point", "shape": "triangle-up", "filled": true, "color": "#000", "size": 45, "opacity": 1}, "encoding": {"x": {"field": "t", "type": "quantitative"}, "y": {"datum": 0.82, "type": "quantitative", "axis": null}}},
                                    {"data": {"values": [{"t": 0, "event": "Fb"}]}, "mark": {"type": "text", "fontSize": 17, "align": "center", "baseline": "alphabetic", "color": "#111"}, "encoding": {"x": {"field": "t", "type": "quantitative"}, "y": {"datum": 0.52, "type": "quantitative", "axis": null}, "text": {"field": "event"}}}
                                  ]
                                }
                              ]
                            }
                          ]
                        },
                        {"width": 595, "height": 5, "data": {"values": []}, "mark": "point", "view": {"fill": "#0a0af0", "stroke": null}}
                      ]
                    }
                  ]
                },
                {"width": 5, "height": 314, "data": {"values": []}, "mark": "point", "view": {"fill": "#0a0af0", "stroke": null}}
              ]
            }
          ]
        },
        {"width": 620, "height": 1, "data": {"values": []}, "mark": "point", "view": {"fill": "#777777", "stroke": null}}
      ]
    },
    {"width": 1, "height": 332, "data": {"values": []}, "mark": "point", "view": {"fill": "#777777", "stroke": null}}
  ]
}
